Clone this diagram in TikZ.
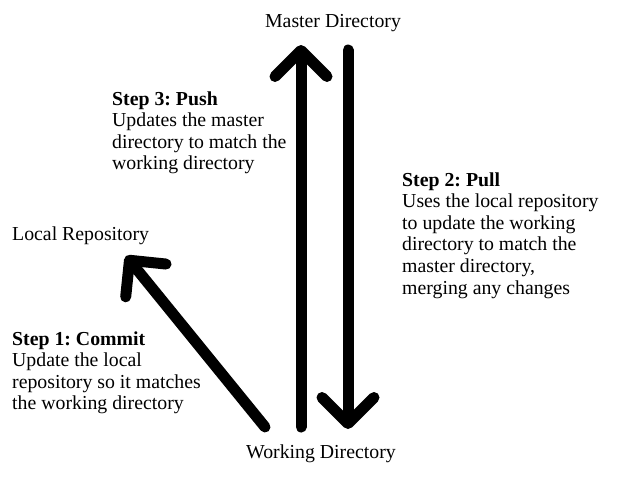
\documentclass[tikz,border=0pt]{standalone}
\usepackage{fontspec}
\setmainfont{Liberation Serif}
\usetikzlibrary{arrows.meta,positioning,calc}
\frenchspacing
\tikzset{lbl/.style={inner sep=0pt,font=\fontsize{19.8}{21.6}\selectfont},
  txt/.style={lbl,align=left,anchor=base west},
  bigarrow/.style={line width=11pt,line cap=round,-{Straight Barb[round,length=26pt,width=52pt]}}}

\begin{document}
\begin{tikzpicture}[x=1pt,y=-1pt]
\useasboundingbox (0,0) rectangle (617,479);
\node[lbl,anchor=base](d_m) at (333,27){Master Directory};
\node[lbl,anchor=base west](d_l) at (12,240){Local Repository};
\node[lbl,anchor=base](d_w) at (321,458){Working Directory};
\node[txt](s_3) at (112,169.8){\textbf{Step 3: Push}\\Updates the master\\directory to match the\\working directory};
\node[txt](s_2) at (402,294){\textbf{Step 2: Pull}\\Uses the local repository\\to update the working\\directory to match the\\master directory,\\merging any changes};
\node[txt](s_1) at (12,409.8){\textbf{Step 1: Commit}\\Update the local\\repository so it matches\\the working directory};
\coordinate(p_0) at (301,427);
\coordinate(p_1) at (301,45);
\coordinate(q_0) at (348,50);
\coordinate(q_1) at (348,429);
\coordinate(c_0) at (265,427);
\coordinate(c_1) at (126,256);
\draw[bigarrow] (p_0) -- (p_1);
\draw[bigarrow] (q_0) -- (q_1);
\draw[bigarrow] (c_0) -- (c_1);
\end{tikzpicture}
\end{document}
